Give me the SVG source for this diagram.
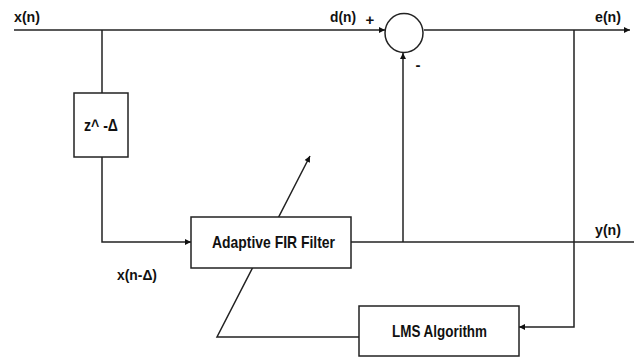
<svg xmlns="http://www.w3.org/2000/svg" width="635" height="357" viewBox="0 0 635 357">
<defs>
<style>
.ln{fill:none;stroke:#222;stroke-width:1.5}
.bx{fill:#fff;stroke:#222;stroke-width:1.5}
.t{font-family:"Liberation Sans",Arial,sans-serif;font-weight:bold;font-size:15px;fill:#111}
.b{font-size:17px}
</style>
<marker id="ah" viewBox="0 0 10 10" refX="10" refY="5" markerWidth="10" markerHeight="6" markerUnits="userSpaceOnUse" orient="auto">
<path d="M0,0 L10,5 L0,10 Z" fill="#111"/>
</marker>
</defs>
<rect width="635" height="357" fill="#fff"/>
<g id="connectors">
<line class="ln" x1="14" y1="30" x2="385" y2="30" marker-end="url(#ah)"/>
<line class="ln" x1="424" y1="30" x2="630" y2="30" marker-end="url(#ah)"/>
<line class="ln" x1="102" y1="30" x2="102" y2="93"/>
<polyline class="ln" points="102,157 102,242 191,242" marker-end="url(#ah)"/>
<line class="ln" x1="351" y1="242" x2="634" y2="242"/>
<line class="ln" x1="403" y1="242" x2="403" y2="53" marker-end="url(#ah)"/>
<polyline class="ln" points="574,30 574,327 519,327" marker-end="url(#ah)"/>
<polyline class="ln" points="359,337 217,337 310,156" marker-end="url(#ah)"/>
</g>
<g id="sum">
<ellipse class="bx" cx="404" cy="33" rx="19" ry="19.5"/>
<text class="t" x="370" y="25" text-anchor="middle">+</text>
<text class="t" x="418" y="70" text-anchor="middle">-</text>
</g>
<g id="delay">
<rect class="bx" x="74" y="93" width="54" height="64"/>
<text class="t b" x="84" y="131" textLength="34" lengthAdjust="spacingAndGlyphs">z^ -Δ</text>
</g>
<g id="fir">
<rect class="bx" x="191" y="217" width="160" height="51"/>
<text class="t b" x="212" y="248" textLength="123" lengthAdjust="spacingAndGlyphs">Adaptive FIR Filter</text>
</g>
<g id="lms">
<rect class="bx" x="359" y="306" width="160" height="50"/>
<text class="t" style="font-size:16px" x="392" y="337" textLength="95" lengthAdjust="spacingAndGlyphs">LMS Algorithm</text>
</g>
<g id="labels">
<text class="t" x="14" y="22" textLength="26" lengthAdjust="spacingAndGlyphs">x(n)</text>
<text class="t" x="330" y="22" textLength="26" lengthAdjust="spacingAndGlyphs">d(n)</text>
<text class="t" x="595" y="22" textLength="26" lengthAdjust="spacingAndGlyphs">e(n)</text>
<text class="t" x="595" y="235" textLength="26" lengthAdjust="spacingAndGlyphs">y(n)</text>
<text class="t" x="117" y="280" textLength="40" lengthAdjust="spacingAndGlyphs">x(n-Δ)</text>
</g>
</svg>
